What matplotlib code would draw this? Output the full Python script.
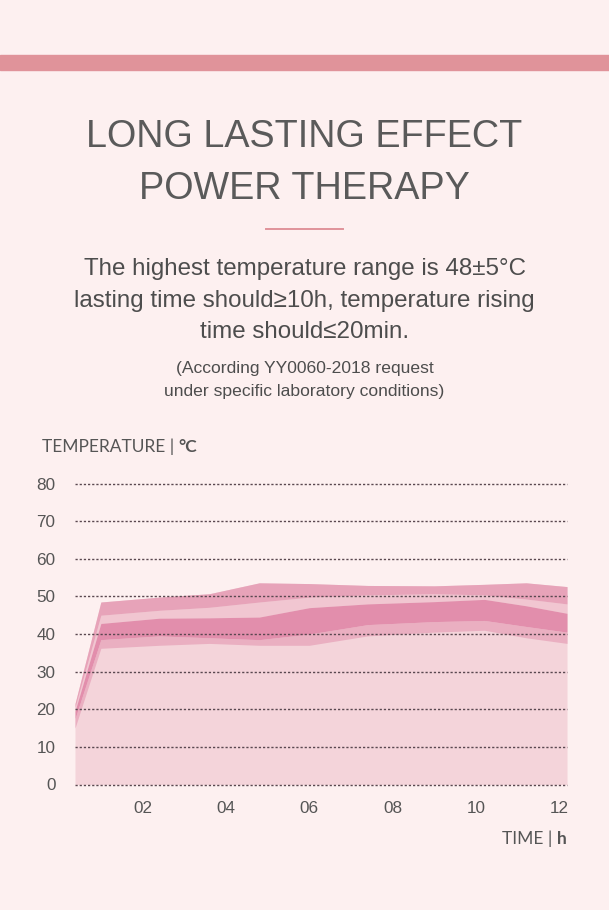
import matplotlib.pyplot as plt
import numpy as np

# time (h) and temperature band edges (°C)
times = [0.38, 1.0, 2.4, 3.6, 4.8, 6.0, 7.4, 9.0, 10.2, 11.2, 12.18]
top   = [21.5, 48.5, 49.8, 50.7, 53.6, 53.4, 52.9, 52.8, 53.2, 53.6, 52.6]
a_low = [20.5, 45.0, 46.3, 47.1, 48.5, 49.8, 50.4, 50.7, 50.4, 49.3, 48.0]
d_top = [19.5, 42.8, 44.2, 44.3, 44.5, 47.0, 48.0, 48.6, 49.2, 47.5, 45.5]
d_low = [17.5, 38.5, 39.5, 39.0, 38.5, 40.0, 42.5, 43.3, 43.6, 42.0, 40.5]
m_low = [15.0, 36.2, 37.0, 37.5, 37.0, 37.0, 39.5, 40.5, 41.0, 39.0, 37.5]

yticks = [0, 10, 20, 30, 40, 50, 60, 70, 80]
xticks = [2, 4, 6, 8, 10, 12]
xlabels = ["02", "04", "06", "08", "10", "12"]

W, H = 609, 910
bg = "#fdf0f0"
salmon = "#e0939a"
grey = "#555555"

fig = plt.figure(figsize=(W / 100, H / 100), dpi=100, facecolor=bg)
font = "Liberation Sans"

def fx(px):
    return px / W

def fy(py):
    return 1 - py / H

# top bar and divider
fig.patches.append(plt.Rectangle((0, fy(70)), 1, 15 / H, transform=fig.transFigure,
                                 color=salmon, zorder=0))
fig.add_artist(plt.Line2D([fx(266), fx(343)], [fy(229), fy(229)], color=salmon, lw=1.4))

fig.text(0.5, fy(147), "LONG LASTING EFFECT", ha="center", va="baseline",
         fontsize=27.2, color="#5a5a5a", family=font)
fig.text(0.5, fy(199), "POWER THERAPY", ha="center", va="baseline",
         fontsize=27.2, color="#5a5a5a", family=font)

lines = ["The highest temperature range is 48±5°C",
         "lasting time should≥10h, temperature rising",
         "time should≤20min."]
for s, b in zip(lines, [275, 307, 338]):
    fig.text(0.5, fy(b), s, ha="center", va="baseline", fontsize=17.4,
             color="#4d4d4d", family=[font, "DejaVu Sans"])
fig.text(0.5, fy(373), "(According YY0060-2018 request", ha="center", va="baseline",
         fontsize=12.6, color="#4d4d4d", family=font)
fig.text(0.5, fy(396), "under specific laboratory conditions)", ha="center", va="baseline",
         fontsize=12.6, color="#4d4d4d", family=font)

# chart
y0, y80 = 784.5, 483.5
ax = fig.add_axes([fx(75), fy(y0), fx(567) - fx(75), (y0 - y80) / H])
ax.set_facecolor("none")
ax.fill_between(times, 0, top, color="#f4d4da", lw=0)
ax.fill_between(times, d_top, a_low, color="#f1c6d1", lw=0)
ax.fill_between(times, a_low, top, color="#e7a3b9", lw=0)
ax.fill_between(times, m_low, d_low, color="#eaafc1", lw=0)
ax.fill_between(times, d_low, d_top, color="#e28eac", lw=0)

ax.set_xlim(0.38, 12.18)
ax.set_ylim(0, 80)
ax.set_yticks(yticks)
ax.set_xticks(xticks)
ax.set_xticklabels(xlabels)
ax.grid(axis="y", color="#5a4850", linestyle=(0, (1.6, 1.4)), lw=1.0)
for gl in ax.get_ygridlines():
    gl.set_clip_on(False)
ax.set_axisbelow(False)
for sp in ax.spines.values():
    sp.set_visible(False)
ax.tick_params(length=0, labelsize=12.3, labelcolor=grey)
ax.tick_params(axis="y", pad=14)
ax.tick_params(axis="x", pad=12)
for lab in ax.get_xticklabels() + ax.get_yticklabels():
    lab.set_family(font)

t1 = fig.text(fx(42), fy(452), "TEMPERATURE | ", ha="left", va="baseline",
              fontsize=12.5, color=grey, family="Lato")
ax.annotate("°C", xy=(1, 0), xycoords=t1, va="bottom", ha="left",
            fontsize=12.5, color=grey, family="Lato", weight="bold")

t2 = fig.text(fx(567), fy(844), "h", ha="right", va="baseline",
              fontsize=12.5, color=grey, family="Lato", weight="bold")
ax.annotate("TIME | ", xy=(0, 0), xycoords=t2, va="bottom", ha="right",
            fontsize=12.5, color=grey, family="Lato")

fig.savefig("out.png", dpi=100, facecolor=bg)
